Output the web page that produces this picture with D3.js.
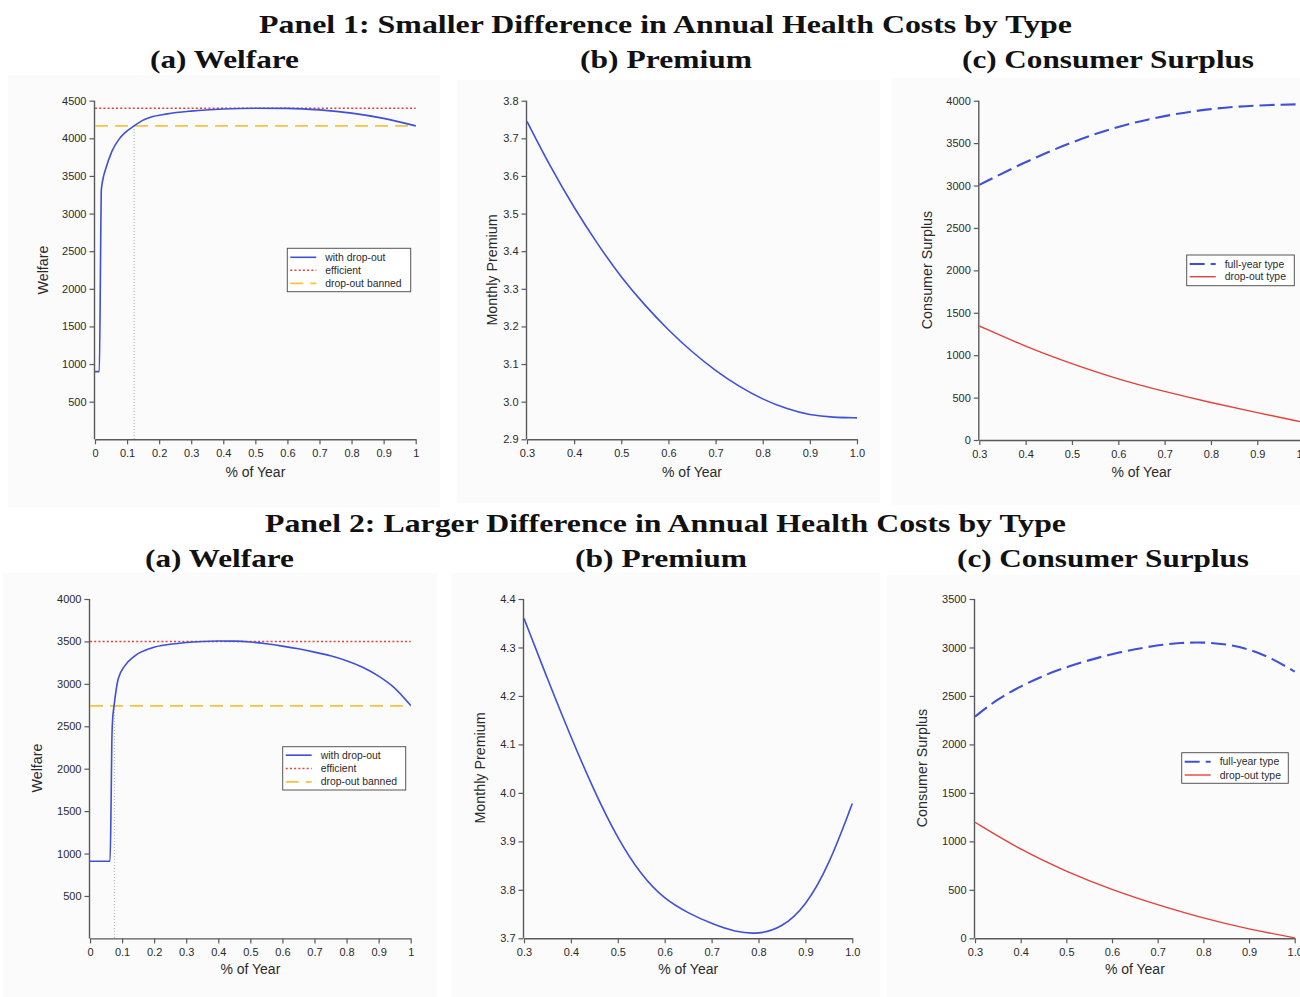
<!DOCTYPE html>
<html>
<head>
<meta charset="utf-8">
<script src="https://cdn.jsdelivr.net/npm/d3@7"></script>
<style>
  body { margin: 0; background: #fff; }
  svg { display: block; }
</style>
</head>
<body>
<svg id="fig" width="1300" height="997"></svg>
<script>
// ---------- Panel 1: smaller difference in annual health costs ----------
const welfareDropout1 = [
  [0, 900], [0.0135, 900], [0.0175, 2500], [0.0195, 3300], [0.022, 3390], [0.027, 3500],
  [0.033, 3590], [0.053, 3830], [0.074, 3983], [0.095, 4080], [0.122, 4165], [0.147, 4235],
  [0.173, 4280], [0.225, 4325], [0.3, 4362], [0.4, 4390], [0.5, 4400], [0.6, 4398],
  [0.7, 4378], [0.8, 4335], [0.9, 4265], [1.0, 4165]
];
const welfareEfficient1 = 4400;
const welfareBanned1 = 4165;
const welfareCutoff1 = 0.122;

const premium1 = [
  [0.3, 3.745], [0.35, 3.623], [0.4, 3.515], [0.45, 3.418], [0.5, 3.33], [0.55, 3.256],
  [0.6, 3.19], [0.65, 3.132], [0.7, 3.082], [0.75, 3.04], [0.8, 3.006], [0.85, 2.981],
  [0.9, 2.964], [0.95, 2.958], [1.0, 2.957]
];

const surplusFullYear1 = [
  [0.3, 3007], [0.4, 3282], [0.5, 3515], [0.6, 3700], [0.7, 3825], [0.8, 3908],
  [0.9, 3948], [1.0, 3958]
];
const surplusDropout1 = [
  [0.3, 1344], [0.4, 1100], [0.5, 896], [0.6, 715], [0.7, 570], [0.8, 440],
  [0.9, 322], [1.0, 208]
];

// ---------- Panel 2: larger difference in annual health costs ----------
const welfareDropout2 = [
  [0, 910], [0.0624, 910], [0.0655, 1500], [0.068, 2300], [0.0705, 2580], [0.075, 2740],
  [0.088, 3060], [0.109, 3215], [0.14, 3330], [0.19, 3420], [0.25, 3466], [0.3, 3488],
  [0.35, 3500], [0.4, 3505], [0.45, 3503], [0.5, 3493], [0.55, 3472], [0.6, 3445],
  [0.65, 3413], [0.7, 3374], [0.75, 3330], [0.8, 3272], [0.85, 3195], [0.9, 3091],
  [0.95, 2950], [1.0, 2745]
];
const welfareEfficient2 = 3500;
const welfareBanned2 = 2740;
const welfareCutoff2 = 0.076;

const premium2 = [
  [0.3, 4.36], [0.35, 4.235], [0.4, 4.115], [0.45, 4.003], [0.5, 3.905], [0.55, 3.83],
  [0.6, 3.78], [0.65, 3.752], [0.7, 3.73], [0.75, 3.713], [0.8, 3.708], [0.85, 3.722],
  [0.9, 3.765], [0.95, 3.85], [1.0, 3.978]
];

const surplusFullYear2 = [
  [0.3, 2287], [0.35, 2470], [0.4, 2600], [0.45, 2710], [0.5, 2800], [0.6, 2940],
  [0.7, 3025], [0.75, 3048], [0.8, 3055], [0.85, 3035], [0.9, 2985], [0.95, 2890],
  [1.0, 2750]
];
const surplusDropout2 = [
  [0.3, 1197], [0.4, 911], [0.5, 688], [0.6, 499], [0.7, 344], [0.8, 206],
  [0.9, 93], [1.0, 5]
];

// ---------- ticks and labels ----------
const xTicksWelfare = [0, 0.1, 0.2, 0.3, 0.4, 0.5, 0.6, 0.7, 0.8, 0.9, 1];
const xTicksShare = [0.3, 0.4, 0.5, 0.6, 0.7, 0.8, 0.9, 1.0];
const yTicksWelfare1 = [500, 1000, 1500, 2000, 2500, 3000, 3500, 4000, 4500];
const yTicksWelfare2 = [500, 1000, 1500, 2000, 2500, 3000, 3500, 4000];
const yTicksPremium1 = [2.9, 3.0, 3.1, 3.2, 3.3, 3.4, 3.5, 3.6, 3.7, 3.8];
const yTicksPremium2 = [3.7, 3.8, 3.9, 4.0, 4.1, 4.2, 4.3, 4.4];
const yTicksSurplus1 = [0, 500, 1000, 1500, 2000, 2500, 3000, 3500, 4000];
const yTicksSurplus2 = [0, 500, 1000, 1500, 2000, 2500, 3000, 3500];

const panelTitles = [
  "Panel 1: Smaller Difference in Annual Health Costs by Type",
  "Panel 2: Larger Difference in Annual Health Costs by Type"
];
const chartTitles = ["(a) Welfare", "(b) Premium", "(c) Consumer Surplus"];
const welfareLegend = ["with drop-out", "efficient", "drop-out banned"];
const surplusLegend = ["full-year type", "drop-out type"];

// ---------- styles ----------
const BLUE = "#3f50d8";
const RED = "#e5413a";
const YELLOW = "#f1c53e";
const AXIS = "#5a5a5a";
const SANS = "'Liberation Sans', Arial, Helvetica, sans-serif";
const SERIF = "'Liberation Serif', 'Times New Roman', serif";

const styles = {
  dropout:  { stroke: BLUE, width: 1.6, dash: null },
  efficient:{ stroke: RED, width: 1.5, dash: "2,2.2" },
  banned:   { stroke: YELLOW, width: 1.8, dash: "13,7" },
  fullYear: { stroke: BLUE, width: 2.1, dash: "15,6" },
  dropType: { stroke: RED, width: 1.4, dash: null },
  premium:  { stroke: BLUE, width: 1.6, dash: null }
};

const svg = d3.select("#fig");

// ---------- titles ----------
function title(text, cx, baseline, width, size) {
  svg.append("text")
    .attr("x", cx).attr("y", baseline)
    .attr("text-anchor", "middle")
    .attr("font-family", SERIF).attr("font-weight", "bold")
    .attr("font-size", size)
    .attr("textLength", width).attr("lengthAdjust", "spacingAndGlyphs")
    .attr("fill", "#111")
    .text(text);
}

// ---------- chart ----------
function drawChart(c) {
  const g = svg.append("g");

  g.append("rect")
    .attr("x", c.box[0]).attr("y", c.box[1])
    .attr("width", c.box[2] - c.box[0]).attr("height", c.box[3] - c.box[1])
    .attr("fill", "#fbfbfb");

  const x = d3.scaleLinear().domain(c.xDomain).range([c.x0, c.x1]);
  const y = d3.scaleLinear().domain(c.yDomain).range([c.y1, c.y0]);

  const xAxis = d3.axisBottom(x).tickValues(c.xTicks).tickFormat(d3.format(c.xFormat))
    .tickSize(5).tickSizeOuter(0).tickPadding(5);
  const yAxis = d3.axisLeft(y).tickValues(c.yTicks).tickFormat(d3.format(c.yFormat))
    .tickSize(5).tickSizeOuter(0).tickPadding(3);

  const gx = g.append("g").attr("transform", `translate(0,${c.y1})`).call(xAxis);
  const gy = g.append("g").attr("transform", `translate(${c.x0 - 0.5},0)`).call(yAxis);
  gy.select(".domain").attr("d", `M0,${y(c.yDomain[0])}V${y(c.yDomain[1])}`);
  [gx, gy].forEach(a => {
    a.select(".domain").attr("stroke", AXIS).attr("stroke-width", 1.4);
    a.selectAll(".tick line").attr("stroke", AXIS).attr("stroke-width", 1.2);
    a.selectAll(".tick text").attr("font-family", SANS).attr("font-size", 11).attr("fill", "#2a2a2a");
  });

  g.append("text")
    .attr("x", (c.x0 + c.x1) / 2).attr("y", c.y1 + c.xLabelGap)
    .attr("text-anchor", "middle")
    .attr("font-family", SANS).attr("font-size", 14).attr("fill", "#2a2a2a")
    .text("% of Year");

  g.append("text")
    .attr("transform", `translate(${c.yLabelX},${c.yLabelY}) rotate(-90)`)
    .attr("text-anchor", "middle").attr("dy", "0.35em")
    .attr("font-family", SANS).attr("font-size", 14.3).attr("fill", "#2a2a2a")
    .text(c.yLabel);

  const stroke = (sel, s) => sel
    .attr("fill", "none").attr("stroke", s.stroke)
    .attr("stroke-width", s.width).attr("stroke-dasharray", s.dash);

  (c.hlines || []).forEach(h => {
    g.append("line")
      .attr("x1", x(c.xDomain[0])).attr("x2", x(c.xDomain[1]))
      .attr("y1", y(h.value)).attr("y2", y(h.value))
      .call(stroke, h.style);
  });

  if (c.cutoff) {
    g.append("line")
      .attr("x1", x(c.cutoff.x)).attr("x2", x(c.cutoff.x))
      .attr("y1", y(c.cutoff.top)).attr("y2", y(c.yDomain[0]))
      .attr("stroke", "#a8a8a8").attr("stroke-width", 1).attr("stroke-dasharray", "1,2");
  }

  c.series.forEach(s => {
    const line = d3.line().x(d => x(d[0])).y(d => y(d[1])).curve(s.curve || d3.curveBasis);
    g.append("path").datum(s.data).attr("d", line).call(stroke, s.style);
  });

  if (c.legend) {
    const L = c.legend;
    const lg = g.append("g");
    lg.append("rect")
      .attr("x", L.x).attr("y", L.y).attr("width", L.w).attr("height", L.h)
      .attr("fill", "#fff").attr("stroke", "#555").attr("stroke-width", 1);
    L.items.forEach((it, i) => {
      const ry = L.y + L.first + i * L.step;
      lg.append("line")
        .attr("x1", L.x + 3).attr("x2", L.x + 29).attr("y1", ry).attr("y2", ry)
        .call(stroke, it.style);
      lg.append("text")
        .attr("x", L.x + 38).attr("y", ry + 3.6)
        .attr("font-family", SANS).attr("font-size", 10.4).attr("fill", "#2a2a2a")
        .text(it.label);
    });
  }
}

// ---------- Panel 1 ----------
title(panelTitles[0], 665.5, 33, 813, 26);
title(chartTitles[0], 224.5, 68, 149, 26);
title(chartTitles[1], 666, 68, 172, 26);
title(chartTitles[2], 1108, 68, 292, 26);

drawChart({
  box: [8, 75, 440, 507],
  x0: 95, x1: 415.7, y0: 100.7, y1: 439.3,
  xDomain: [0, 1], yDomain: [0, 4500],
  xTicks: xTicksWelfare, yTicks: yTicksWelfare1, xFormat: "~g", yFormat: "d",
  xLabelGap: 38, yLabel: "Welfare", yLabelX: 42.7, yLabelY: 270,
  hlines: [
    { value: welfareEfficient1, style: styles.efficient },
    { value: welfareBanned1, style: styles.banned }
  ],
  cutoff: { x: welfareCutoff1, top: welfareBanned1 },
  series: [{ data: welfareDropout1, style: styles.dropout, curve: d3.curveMonotoneX }],
  legend: {
    x: 287.3, y: 248.3, w: 123.4, h: 43.4, first: 9, step: 13,
    items: [
      { label: welfareLegend[0], style: styles.dropout },
      { label: welfareLegend[1], style: styles.efficient },
      { label: welfareLegend[2], style: styles.banned }
    ]
  }
});

drawChart({
  box: [456.7, 80, 880, 503],
  x0: 527, x1: 857, y0: 100.7, y1: 439.3,
  xDomain: [0.3, 1.0], yDomain: [2.9, 3.8],
  xTicks: xTicksShare, yTicks: yTicksPremium1, xFormat: ".1f", yFormat: ".1f",
  xLabelGap: 38, yLabel: "Monthly Premium", yLabelX: 491.7, yLabelY: 270,
  series: [{ data: premium1, style: styles.premium }]
});

drawChart({
  box: [891.7, 78, 1310, 505],
  x0: 979.3, x1: 1303.6, y0: 100.7, y1: 440,
  xDomain: [0.3, 1.0], yDomain: [0, 4000],
  xTicks: xTicksShare, yTicks: yTicksSurplus1, xFormat: ".1f", yFormat: "d",
  xLabelGap: 37, yLabel: "Consumer Surplus", yLabelX: 926.7, yLabelY: 270,
  series: [
    { data: surplusFullYear1, style: styles.fullYear },
    { data: surplusDropout1, style: styles.dropType }
  ],
  legend: {
    x: 1186.7, y: 255, w: 107.6, h: 30.7, first: 9, step: 12.7,
    items: [
      { label: surplusLegend[0], style: styles.fullYear },
      { label: surplusLegend[1], style: styles.dropType }
    ]
  }
});

// ---------- Panel 2 ----------
title(panelTitles[1], 665.5, 532, 801, 26);
title(chartTitles[0], 219.5, 567, 149, 26);
title(chartTitles[1], 661, 567, 172, 26);
title(chartTitles[2], 1103, 567, 292, 26);

drawChart({
  box: [3, 573, 437, 1000],
  x0: 90, x1: 410.7, y0: 599, y1: 938.4,
  xDomain: [0, 1], yDomain: [0, 4000],
  xTicks: xTicksWelfare, yTicks: yTicksWelfare2, xFormat: "~g", yFormat: "d",
  xLabelGap: 36, yLabel: "Welfare", yLabelX: 36.7, yLabelY: 768,
  hlines: [
    { value: welfareEfficient2, style: styles.efficient },
    { value: welfareBanned2, style: styles.banned }
  ],
  cutoff: { x: welfareCutoff2, top: welfareBanned2 },
  series: [{ data: welfareDropout2, style: styles.dropout, curve: d3.curveMonotoneX }],
  legend: {
    x: 282.7, y: 746.7, w: 123, h: 43.3, first: 8.5, step: 13.3,
    items: [
      { label: welfareLegend[0], style: styles.dropout },
      { label: welfareLegend[1], style: styles.efficient },
      { label: welfareLegend[2], style: styles.banned }
    ]
  }
});

drawChart({
  box: [451.7, 573, 880, 1000],
  x0: 524, x1: 852.3, y0: 599, y1: 938.3,
  xDomain: [0.3, 1.0], yDomain: [3.7, 4.4],
  xTicks: xTicksShare, yTicks: yTicksPremium2, xFormat: ".1f", yFormat: ".1f",
  xLabelGap: 36, yLabel: "Monthly Premium", yLabelX: 480, yLabelY: 768,
  series: [{ data: premium2, style: styles.premium }]
});

drawChart({
  box: [886.7, 575, 1310, 1000],
  x0: 975, x1: 1294.7, y0: 599, y1: 938.3,
  xDomain: [0.3, 1.0], yDomain: [0, 3500],
  xTicks: xTicksShare, yTicks: yTicksSurplus2, xFormat: ".1f", yFormat: "d",
  xLabelGap: 36, yLabel: "Consumer Surplus", yLabelX: 921.7, yLabelY: 768,
  series: [
    { data: surplusFullYear2, style: styles.fullYear },
    { data: surplusDropout2, style: styles.dropType }
  ],
  legend: {
    x: 1181.7, y: 752.7, w: 106.6, h: 30.6, first: 9, step: 13.3,
    items: [
      { label: surplusLegend[0], style: styles.fullYear },
      { label: surplusLegend[1], style: styles.dropType }
    ]
  }
});
</script>
</body>
</html>
